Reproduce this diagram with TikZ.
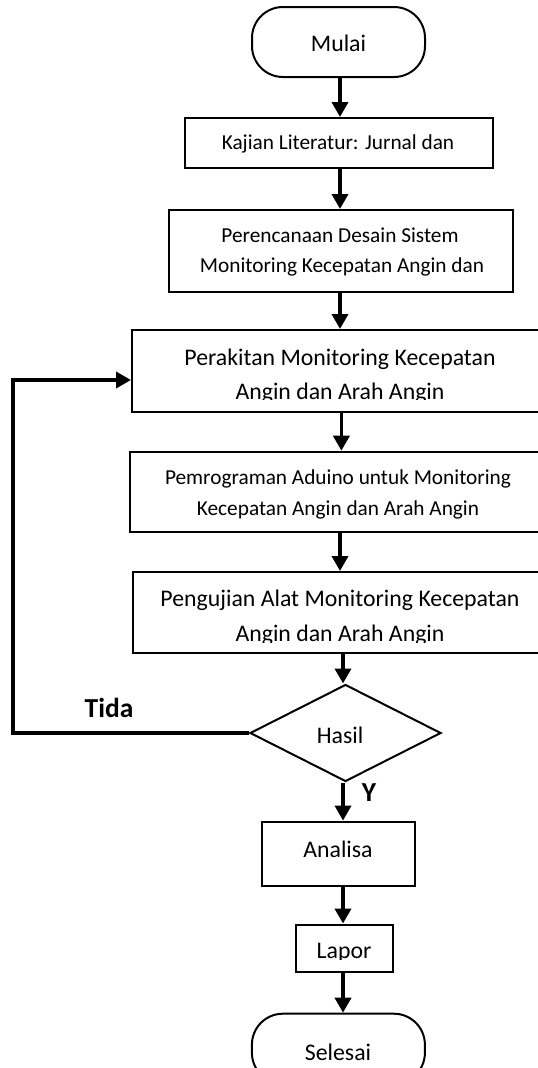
\documentclass[tikz,border=0pt]{standalone}
\usepackage{fontspec}
\setmainfont{Carlito}
\usetikzlibrary{arrows.meta,shapes.geometric}
\newcommand{\myfs}[1]{\fontsize{#1}{#1}\selectfont}
\begin{document}
\begin{tikzpicture}[x=1pt,y=-1pt,
  shapebox/.style={draw, line width=2pt, rectangle, inner sep=0pt},
  term/.style={draw, line width=2pt, rectangle, rounded corners=31pt, inner sep=0pt, minimum width=173pt, minimum height=70pt},
  decis/.style={draw, line width=2pt, diamond, inner sep=0pt, minimum width=191pt, minimum height=97pt},
  lbl/.style={anchor=base, inner sep=0pt},
  big/.style={font=\myfs{23.8}},
  small/.style={font=\myfs{21.3}},
  yn/.style={font=\myfs{27.5}\bfseries},
  arr/.style={line width=3.6pt, -{Triangle[length=15pt,width=16pt]}},
  conn/.style={line width=3.6pt}
]
\useasboundingbox (0,0) rectangle (538,1068);
\fill[white] (0,0) rectangle (538,1068);
\clip (0,0) rectangle (538,1068);

% shapes
\node[term] (mulai) at (338.5,42) {};
\node[shapebox, minimum width=308pt, minimum height=50pt] (kajian) at (339,143) {};
\node[shapebox, minimum width=344pt, minimum height=82pt] (peren) at (341,251) {};
\node[shapebox, minimum width=416pt, minimum height=81.5pt] (perak) at (340,370.75) {};
\node[shapebox, minimum width=420pt, minimum height=80.3pt] (pemro) at (340,491.85) {};
\node[shapebox, minimum width=415pt, minimum height=81.4pt] (pengu) at (340,612.7) {};
\node[decis] (hasil) at (345.5,733) {};
\node[shapebox, minimum width=153.4pt, minimum height=64.4pt] (analisa) at (338.5,853.8) {};
\node[shapebox, minimum width=97.7pt, minimum height=47.3pt] (lapor) at (344.6,948.2) {};
\node[term] (selesai) at (338.4,1048.7) {};

% texts
\node[lbl,big] (tmulai) at (338.5,51.7) {Mulai};
\node[lbl,small] (tkajian) at (338,149.3) {Kajian Literatur: Jurnal dan};
\node[lbl,small] (tperen1) at (340,242.3) {Perencanaan Desain Sistem};
\node[lbl,small] (tperen2) at (342,272.7) {Monitoring Kecepatan Angin dan};
\node[lbl,big] (tperak1) at (340,365.2) {Perakitan Monitoring Kecepatan};
\begin{scope}
  \clip (120,375) rectangle (560,399.8);
  \node[lbl,big] (tperak2) at (340,399.5) {Angin dan Arah Angin};
\end{scope}
\node[lbl,small] (tpemro1) at (338,484.6) {Pemrograman Aduino untuk Monitoring};
\node[lbl,small] (tpemro2) at (338,515.1) {Kecepatan Angin dan Arah Angin};
\node[lbl,big] (tpengu1) at (340,606.4) {Pengujian Alat Monitoring Kecepatan};
\begin{scope}
  \clip (120,615) rectangle (560,642);
  \node[lbl,big] (tpengu2) at (340,641.4) {Angin dan Arah Angin};
\end{scope}
\node[lbl,big] (thasil) at (340,743.7) {Hasil};
\node[lbl,yn] (ttida) at (109,717.6) {Tida};
\node[lbl,yn] (ty) at (369,801) {Y};
\node[lbl,big] (tanalisa) at (338,857.6) {Analisa};
\begin{scope}
  \clip (290,930) rectangle (400,959.8);
  \node[lbl,big] (tlapor) at (344,958.8) {Lapor};
\end{scope}
\node[lbl,big] (tselesai) at (338,1060.4) {Selesai};

% connectors
\coordinate (ax) at (340,0);
\coordinate (ax2) at (341.4,0);
\coordinate (bx) at (343,0);
\coordinate (fb) at (13,380);
\draw[arr] (mulai.south -| ax) -- (kajian.north -| ax);
\draw[arr] (kajian.south -| ax) -- (peren.north -| ax);
\draw[arr] (peren.south -| ax) -- (perak.north -| ax);
\draw[arr] (perak.south -| ax2) -- (pemro.north -| ax2);
\draw[arr] (pemro.south -| ax) -- (pengu.north -| ax);
\draw[arr] (pengu.south -| bx) -- (hasil.north -| bx);
\draw[arr] (hasil.south -| bx) -- (analisa.north -| bx);
\draw[arr] (analisa.south -| bx) -- (lapor.north -| bx);
\draw[arr] (lapor.south -| bx) -- (selesai.north -| bx);
\draw[arr] (hasil.west) -| (fb) -- (fb -| perak.west);
\end{tikzpicture}
\end{document}
